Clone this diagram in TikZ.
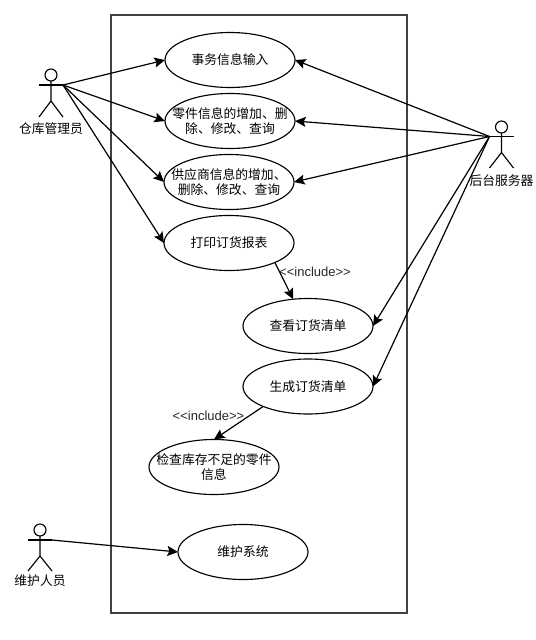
\documentclass[tikz,border=0pt]{standalone}
\usepackage{fontspec}
\setmainfont{Liberation Sans}
\newfontfamily\cjk{Noto Sans CJK SC}
\usetikzlibrary{shapes.geometric,arrows.meta}
\tikzset{
    usecase/.style={ellipse,draw,line width=0.85pt,minimum width=97.5pt,minimum height=41.25pt,inner xsep=-42pt,inner ysep=-6pt,outer sep=0pt,align=center,font=\cjk\fontsize{9.6}{11.25}\selectfont},
    boundary/.style={rectangle,draw=black!75,line width=1.1pt,minimum width=222pt,minimum height=448.5pt,outer sep=0pt},
    actorname/.style={inner sep=0pt,font=\cjk\fontsize{9.6}{11.25}\selectfont},
    includename/.style={inner sep=0pt,text=black!85,font=\fontsize{9.75}{11.25}\selectfont},
    link/.style={-{Stealth[length=8pt,width=7.5pt,inset=1.5pt]},line width=0.9pt}
}
\begin{document}
\begin{tikzpicture}[x=0.75pt,y=-0.75pt,line width=0.85pt]
            \useasboundingbox (0,0) rectangle (536,640);
            \node [boundary] (system) at (259,314) {};
            \node [usecase] (entry) at (230,60) {事务信息输入};
            \node [usecase] (parts) at (230,121) {零件信息的增加、删\\除、修改、查询};
            \node [usecase] (supplier) at (229,182) {供应商信息的增加、\\删除、修改、查询};
            \node [usecase] (report) at (229,243) {打印订货报表};
            \node [usecase] (orderview) at (308,326) {查看订货清单};
            \node [usecase] (ordermake) at (308,386.5) {生成订货清单};
            \node [usecase] (stockcheck) at (214,467) {检查库存不足的零件\\信息};
            \node [usecase] (upkeep) at (243,552) {维护系统};
            \begin{scope}[shift={(51,75)}]
                \draw (0,0) circle (6);
                \draw (-12,10) -- (12,10);
                \draw (0,6) -- (0,26) -- (-12,42);
                \draw (0,26) -- (12,42);
                \coordinate (clerk) at (12,10);
                \node [actorname] (clerkname) at (0,54) {仓库管理员};
            \end{scope}
            \begin{scope}[shift={(501.5,127)}]
                \draw (0,0) circle (6);
                \draw (-12,9.5) -- (12,9.5);
                \draw (0,6) -- (0,25.5) -- (-12,41);
                \draw (0,25.5) -- (12,41);
                \coordinate (server) at (-12,9.5);
                \node [actorname] (servername) at (0,54) {后台服务器};
            \end{scope}
            \begin{scope}[shift={(40,530)}]
                \draw (0,0) circle (6);
                \draw (-12,10) -- (12,10);
                \draw (0,6) -- (0,26) -- (-12,41);
                \draw (0,26) -- (12,41);
                \coordinate (keeper) at (12,10);
                \node [actorname] (keepername) at (0,51) {维护人员};
            \end{scope}
            \draw [link] (clerk) -- (entry.west);
            \draw [link] (clerk) -- (parts.west);
            \draw [link] (clerk) -- (supplier.west);
            \draw [link] (clerk) -- (report.west);
            \draw [link] (server) -- (entry.east);
            \draw [link] (server) -- (parts.east);
            \draw [link] (server) -- (supplier.east);
            \draw [link] (server) -- (orderview.east);
            \draw [link] (server) -- (ordermake.east);
            \draw [link] (keeper) -- (upkeep.west);
            \draw [link] (report.-23.5) -- (orderview.119);
            \draw [link] (ordermake.204) -- (stockcheck.north);
            \node [includename] (firstinclude) at (315,272) {<{}<include>{}>};
            \node [includename] (secondinclude) at (208.5,415.5) {<{}<include>{}>};
        \end{tikzpicture}
\end{document}
